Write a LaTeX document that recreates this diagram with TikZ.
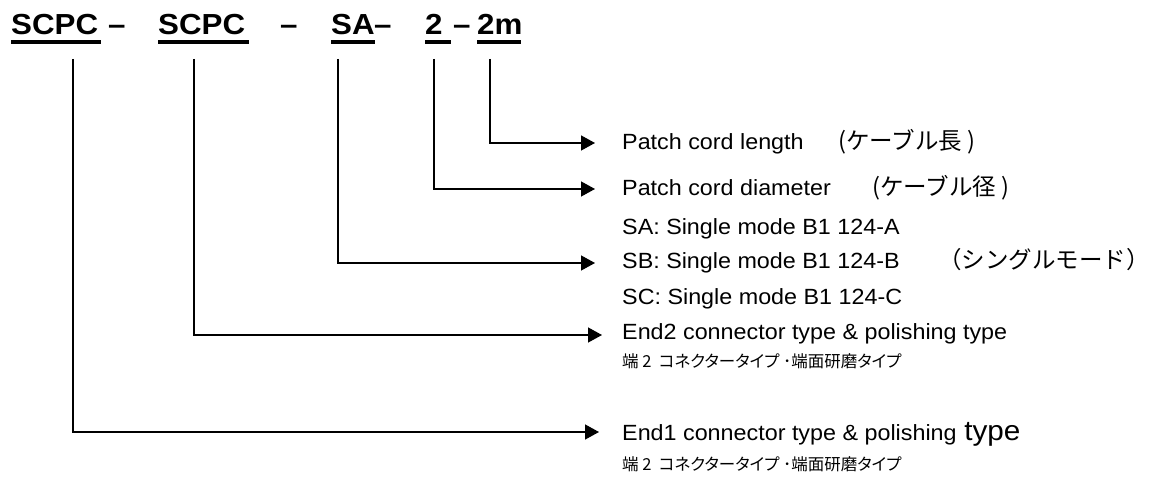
\documentclass[tikz,border=0pt]{standalone}
\usepackage{fontspec}
\usetikzlibrary{arrows.meta}
\setmainfont{Liberation Sans}
\newfontfamily\bodyfont[FakeStretch=1.06]{Liberation Sans}
\newfontfamily\titlefont[FakeStretch=1.08]{Liberation Sans}
\newfontfamily\jpfont{Noto Sans CJK JP}
\newfontfamily\jpsubfont[RawFeature=+palt]{Noto Sans CJK JP}
\begin{document}
\begin{tikzpicture}[x=1pt,y=-1pt,
  tt/.style={inner sep=0pt,anchor=base west,font=\titlefont\bfseries\fontsize{29}{29}\selectfont},
  txt/.style={inner sep=0pt,anchor=base west,font=\bodyfont\fontsize{22}{22}\selectfont},
  jptxt/.style={inner sep=0pt,anchor=base west,font=\jpfont\fontsize{23.5}{23.5}\selectfont},
  jpsub/.style={inner sep=0pt,anchor=base west,font=\jpsubfont\fontsize{16.5}{16.5}\selectfont},
  uline/.style={line width=4pt},
  conn/.style={line width=1.4pt,-{Triangle[length=14pt,width=15pt]}}]
\useasboundingbox (0,0) rectangle (1150,478);
% title
\node[tt] (t1) at (11,35) {SCPC};
\node[tt] (d1) at (108,35) {–};
\node[tt] (t2) at (158,35) {SCPC};
\node[tt] (d2) at (280,35) {–};
\node[tt] (t3) at (331,35) {SA};
\node[tt] (d3) at (374,35) {–};
\node[tt] (t4) at (425,35) {2};
\node[tt] (d4) at (453,35) {–};
\node[tt] (t5) at (477,35) {2m};
\draw[uline] (11,42) -- (101,42);
\draw[uline] (158,42) -- (249,42);
\draw[uline] (331,42) -- (375,42);
\draw[uline] (425,42) -- (451,42);
\draw[uline] (477,42) -- (521,42);
% labels
\node[txt] (l1) at (622,150) {Patch cord length};
\node[jptxt] (l1j) at (838,150) {(ケーブル長 )};
\node[txt] (l2) at (622,196) {Patch cord diameter};
\node[jptxt] (l2j) at (872,196) {(ケーブル径 )};
\node[txt] (l3a) at (622,235) {SA: Single mode B1 124-A};
\node[txt] (l3b) at (622,269) {SB: Single mode B1 124-B};
\node[jptxt] (l3j) at (938,269) {（シングルモード）};
\node[txt] (l3c) at (622,304) {SC: Single mode B1 124-C};
\node[txt] (l4) at (622,339) {End2 connector type \& polishing type};
\node[jpsub] (l4j) at (622,367) {端 2 \ コネクタータイプ ･端面研磨タイプ};
\node[txt] (l5) at (622,440) {End1 connector type \& polishing\hspace{0.35em}{\fontsize{28}{28}\selectfont type}};
\node[jpsub] (l5j) at (622,470) {端 2 \ コネクタータイプ ･端面研磨タイプ};
% connectors
\coordinate (c5) at (490,59); \coordinate (e5) at (595,143);
\coordinate (c4) at (434,59); \coordinate (e4) at (595,189);
\coordinate (c3) at (338,59); \coordinate (e3) at (595,263);
\coordinate (c2) at (194,59); \coordinate (e2) at (602,335);
\coordinate (c1) at (73,59);  \coordinate (e1) at (599,432);
\draw[conn] (c5) |- (e5);
\draw[conn] (c4) |- (e4);
\draw[conn] (c3) |- (e3);
\draw[conn] (c2) |- (e2);
\draw[conn] (c1) |- (e1);
\end{tikzpicture}
\end{document}
